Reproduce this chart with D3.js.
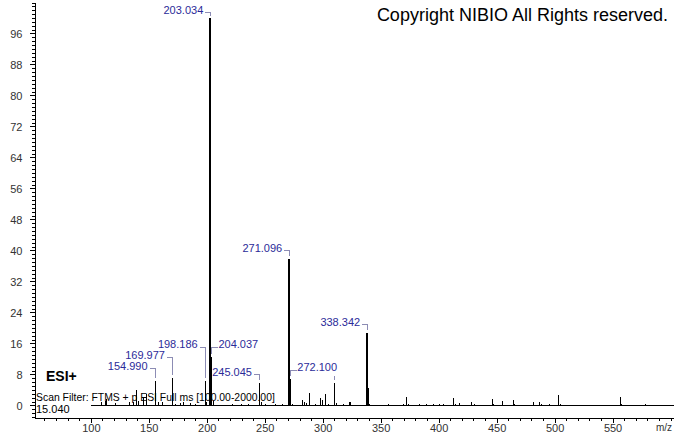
<!DOCTYPE html>
<html>
<head>
    <meta charset="utf-8">
    <title>ESI+ mass spectrum</title>
    <style>
        body { margin: 0; background: #fff; }
        text { font-family: "Liberation Sans", Arial, sans-serif; }
        .axis path, .axis line { stroke: #000; shape-rendering: crispEdges; }
        .axis text { fill: #333; font-size: 11px; }
        .peak { stroke: #000; stroke-width: 1.2px; shape-rendering: crispEdges; }
        .lead { fill: none; stroke: #8c8cb4; stroke-width: 1px; shape-rendering: crispEdges; }
        .plabel { fill: #2b2b99; font-size: 11px; }
    </style>
</head>
<body>
    <script src="https://cdn.jsdelivr.net/npm/d3@7"></script>
    <script>

        // peak list (m/z, relative abundance %)
        var mzValues = [109.2, 112.1, 113.5, 120.7, 133.0, 136.5, 139.4, 141.0, 144.6, 148.0,
            154.990, 158.0, 161.0, 169.977, 172.4, 176.7, 179.6, 185.3, 189.6, 198.186,
            199.2, 203.034, 204.037, 205.04, 221.6, 229.3, 236.0, 245.045, 246.8, 250.3,
            258.9, 264.7, 270.4, 271.096, 272.100, 273.1, 281.9, 283.6, 285.2, 288.5,
            293.4, 297.7, 299.1, 302.0, 304.9, 309.6, 311.2, 317.8, 322.7, 323.5,
            338.342, 339.4, 340.3, 356.3, 369.2, 372.1, 373.4, 383.0, 389.4, 395.1,
            400.3, 403.7, 412.3, 413.8, 417.2, 428.2, 430.2, 445.9, 446.9, 454.6,
            464.1, 465.4, 481.3, 486.5, 487.9, 495.1, 502.9, 504.3, 556.0, 557.5, 577.6];
        var intensities = [0.8, 1.2, 1.6, 0.6, 0.8, 1.0, 3.9, 1.2, 2.0, 3.0,
            6.3, 1.0, 0.8, 7.2, 0.5, 0.6, 1.0, 0.7, 0.5, 6.3,
            1.0, 100, 12.6, 1.2, 0.5, 0.5, 0.4, 5.7, 0.8, 0.4,
            0.3, 0.3, 1.0, 37.7, 6.8, 0.5, 1.5, 1.0, 0.6, 3.2,
            0.5, 2.0, 1.5, 3.0, 0.5, 5.8, 0.6, 0.3, 1.0, 1.0,
            18.6, 4.6, 0.5, 0.3, 0.5, 2.2, 0.4, 0.3, 0.3, 0.3,
            0.4, 0.5, 2.0, 0.5, 0.6, 1.0, 0.4, 1.8, 0.4, 1.2,
            1.4, 0.3, 0.8, 1.0, 0.3, 0.3, 2.6, 0.3, 2.2, 0.3, 0.4];

        // peak annotations: m/z, text, abundance level of the leader, text side
        var labelMz = [203.034, 271.096, 338.342, 198.186, 204.037, 169.977, 154.990, 245.045, 272.100, 309.6];
        var labelText = ["203.034", "271.096", "338.342", "198.186", "204.037", "169.977", "154.990", "245.045", "272.100", ""];
        var labelLevel = [101.5, 40.0, 21.0, 15.1, 15.1, 12.5, 9.6, 8.1, 9.2, 7.9];
        var labelSide = ["left", "left", "left", "left", "right", "left", "left", "left", "right", "none"];

        var yMajorTicks = d3.range(0, 97, 8);
        var xMajorTicks = d3.range(100, 551, 50);

        var width = 674,
            height = 434;

        var x = d3.scaleLinear().domain([51, 603]).range([34, 674]);
        var y = d3.scaleLinear().domain([-3, 104]).range([417.1, 2.5]);

        var peaks = mzValues.map(function (m, i) { return { mz: m, value: intensities[i] }; });
        var labels = labelMz.map(function (m, i) {
            var p = peaks.find(function (d) { return Math.abs(d.mz - m) < 0.01; });
            return { mz: m, text: labelText[i], level: labelLevel[i], side: labelSide[i], top: p ? p.value : 0 };
        });

        var svg = d3.select("body").append("svg")
            .attr("width", width)
            .attr("height", height);

        // y axis: minor and major ticks
        svg.append("g")
            .attr("class", "axis")
            .attr("transform", "translate(34.5,0)")
            .call(d3.axisLeft(y).tickValues(d3.range(-3, 105, 1)).tickSize(3).tickSizeOuter(0).tickFormat(""));
        svg.append("g")
            .attr("class", "axis")
            .attr("transform", "translate(34.5,0)")
            .call(d3.axisLeft(y).tickValues(yMajorTicks).tickSize(5).tickSizeOuter(0).tickPadding(7));

        // x axis
        svg.append("g")
            .attr("class", "axis")
            .attr("transform", "translate(0,417.5)")
            .call(d3.axisBottom(x).tickValues(d3.range(60, 601, 10)).tickSize(3).tickSizeOuter(0).tickFormat(""));
        svg.append("g")
            .attr("class", "axis")
            .attr("transform", "translate(0,417.5)")
            .call(d3.axisBottom(x).tickValues(xMajorTicks).tickSize(5).tickSizeOuter(0).tickPadding(2));

        svg.append("text")
            .attr("x", 672)
            .attr("y", 431)
            .attr("text-anchor", "end")
            .style("font-size", "10px")
            .style("fill", "#333")
            .text("m/z");

        // spectrum baseline
        svg.append("line")
            .attr("class", "peak")
            .attr("x1", x(100)).attr("x2", width)
            .attr("y1", Math.round(y(0)) + 0.5).attr("y2", Math.round(y(0)) + 0.5);

        // peaks (tall ones drawn 2px wide)
        function peakX(d) {
            return d.value > 15 ? Math.round(x(d.mz)) : Math.round(x(d.mz)) + 0.5;
        }

        svg.append("g")
            .selectAll("line")
            .data(peaks)
            .enter()
            .append("line")
            .attr("class", "peak")
            .attr("x1", peakX)
            .attr("x2", peakX)
            .attr("y1", y(0))
            .attr("y2", function (d) { return y(d.value); })
            .style("stroke-width", function (d) { return d.value > 15 ? "2px" : "1px"; });

        // annotations with bracket leaders
        var ann = svg.append("g")
            .selectAll("g")
            .data(labels)
            .enter()
            .append("g");

        ann.append("path")
            .attr("class", "lead")
            .attr("d", function (d) {
                var px = Math.round(x(d.mz)) + 0.5,
                    ly = Math.round(y(d.level)) + 0.5,
                    bottom = Math.max(ly + 3, y(d.top) - 3);
                if (d.side == "left") return "M" + (px - 6) + "," + ly + "H" + px + "V" + bottom;
                if (d.side == "right") return "M" + (px + 6) + "," + ly + "H" + px + "V" + bottom;
                return "M" + px + "," + ly + "V" + bottom;
            });

        ann.append("text")
            .attr("class", "plabel")
            .attr("x", function (d) { return d.side == "right" ? x(d.mz) + 7 : x(d.mz) - 7; })
            .attr("y", function (d) { return y(d.level) + 1.5; })
            .attr("text-anchor", function (d) { return d.side == "right" ? "start" : "end"; })
            .text(function (d) { return d.text; });

        // header and scan info
        svg.append("text")
            .attr("x", 668)
            .attr("y", 21)
            .attr("text-anchor", "end")
            .style("font-size", "18px")
            .style("fill", "#000")
            .text("Copyright NIBIO All Rights reserved.");

        svg.append("text")
            .attr("x", 46)
            .attr("y", 381)
            .style("font-size", "14px")
            .style("font-weight", "bold")
            .style("fill", "#000")
            .text("ESI+");

        svg.append("text")
            .attr("x", 36)
            .attr("y", 401)
            .style("font-size", "10.4px")
            .style("fill", "#000")
            .text("Scan Filter: FTMS + p ESI Full ms [100.00-2000.00]");

        svg.append("text")
            .attr("x", 36)
            .attr("y", 413)
            .style("font-size", "11px")
            .style("fill", "#000")
            .text("15.040");

    </script>
</body>
</html>
